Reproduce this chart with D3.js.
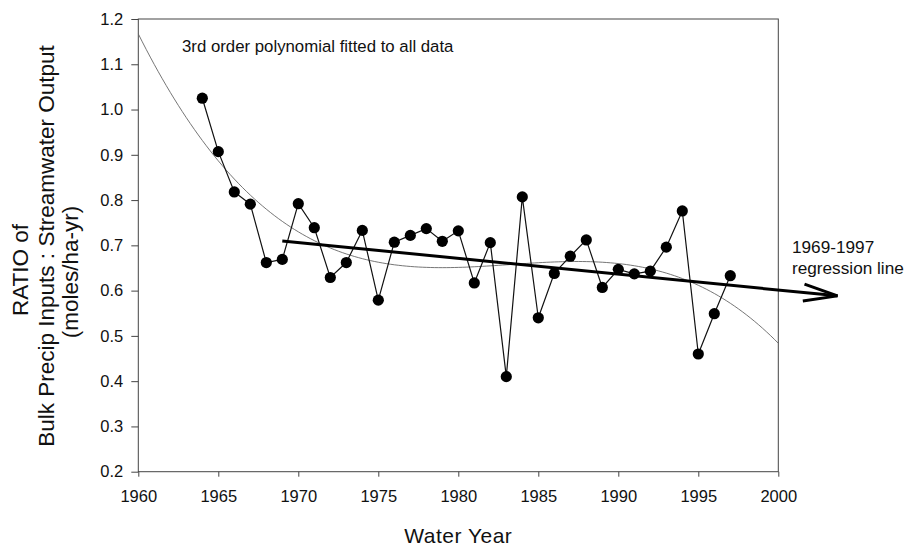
<!DOCTYPE html>
<html>
<head>
<meta charset="utf-8">
<script src="https://cdn.jsdelivr.net/npm/d3@7"></script>
<style>
  body { margin: 0; background: #fff; }
  svg { font-family: "Liberation Sans", Arial, sans-serif; }
  .axis path, .axis line { stroke: #444; }
  .axis text { font-size: 16.5px; fill: #111; }
</style>
</head>
<body>
<div id="chart"></div>
<script>
// water years and ratio values
const years = [1964, 1965, 1966, 1967, 1968, 1969, 1970, 1971, 1972, 1973, 1974,
    1975, 1976, 1977, 1978, 1979, 1980, 1981, 1982, 1983, 1984, 1985, 1986,
    1987, 1988, 1989, 1990, 1991, 1992, 1993, 1994, 1995, 1996, 1997];
const ratios = [1.025, 0.907, 0.818, 0.791, 0.662, 0.669, 0.792, 0.739, 0.629, 0.662, 0.733,
    0.579, 0.707, 0.722, 0.737, 0.709, 0.732, 0.617, 0.706, 0.410, 0.807, 0.540, 0.638,
    0.676, 0.712, 0.607, 0.647, 0.637, 0.643, 0.696, 0.776, 0.460, 0.549, 0.633];
const xTicks = [1960, 1965, 1970, 1975, 1980, 1985, 1990, 1995, 2000];
const yTicks = [0.2, 0.3, 0.4, 0.5, 0.6, 0.7, 0.8, 0.9, 1.0, 1.1, 1.2];
const regStart = 1969, regStop = 1997;
const arrowYear = 2003.7;

const width = 906, height = 546;
const margin = { top: 19, right: 127.7, bottom: 74.3, left: 138.3 };
const innerW = width - margin.left - margin.right;
const innerH = height - margin.top - margin.bottom;

const svg = d3.select('#chart').append('svg')
    .attr('width', width)
    .attr('height', height);

const g = svg.append('g')
    .attr('transform', `translate(${margin.left},${margin.top})`);

const x = d3.scaleLinear().domain([1960, 2000]).range([0, innerW]);
const y = d3.scaleLinear().domain([0.2, 1.2]).range([innerH, 0]);

const points = years.map((yr, i) => ({ year: yr, value: ratios[i] }));

// least squares polynomial of given degree, x centered on 1980
function polyFit(data, degree) {
    const n = degree + 1;
    const A = Array.from({ length: n }, () => new Array(n + 1).fill(0));
    data.forEach(d => {
        const t = d.year - 1980;
        for (let r = 0; r < n; r++) {
            for (let c = 0; c < n; c++) A[r][c] += Math.pow(t, r + c);
            A[r][n] += d.value * Math.pow(t, r);
        }
    });
    for (let i = 0; i < n; i++) {
        let p = i;
        for (let k = i + 1; k < n; k++) if (Math.abs(A[k][i]) > Math.abs(A[p][i])) p = k;
        [A[i], A[p]] = [A[p], A[i]];
        for (let k = 0; k < n; k++) {
            if (k === i) continue;
            const f = A[k][i] / A[i][i];
            for (let c = i; c <= n; c++) A[k][c] -= f * A[i][c];
        }
    }
    const coef = A.map((row, i) => row[n] / row[i]);
    return yr => coef.reduce((s, c, i) => s + c * Math.pow(yr - 1980, i), 0);
}

const cubic = polyFit(points, 3);
const linear = polyFit(points.filter(d => d.year >= regStart && d.year <= regStop), 1);

// frame
g.append('rect')
    .attr('width', innerW)
    .attr('height', innerH)
    .attr('fill', 'none')
    .attr('stroke', '#444')
    .attr('stroke-width', 1);

g.append('g')
    .attr('class', 'axis')
    .attr('transform', `translate(0,${innerH})`)
    .call(d3.axisBottom(x).tickValues(xTicks).tickFormat(d3.format('d')).tickSize(5).tickPadding(14))
    .call(a => a.select('.domain').remove());

g.append('g')
    .attr('class', 'axis')
    .call(d3.axisLeft(y).tickValues(yTicks).tickFormat(d3.format('.1f')).tickSize(7).tickPadding(8))
    .call(a => a.select('.domain').remove());

// fitted cubic
const curveYears = d3.range(1960, 2000.01, 0.25);
g.append('path')
    .datum(curveYears)
    .attr('fill', 'none')
    .attr('stroke', '#666')
    .attr('stroke-width', 0.9)
    .attr('d', d3.line().x(d => x(d)).y(d => y(cubic(d))));

// data series
g.append('path')
    .datum(points)
    .attr('fill', 'none')
    .attr('stroke', '#111')
    .attr('stroke-width', 1.2)
    .attr('d', d3.line().x(d => x(d.year)).y(d => y(d.value)));

g.selectAll('.pt')
    .data(points)
    .enter().append('circle')
    .attr('class', 'pt')
    .attr('cx', d => x(d.year))
    .attr('cy', d => y(d.value))
    .attr('r', 5.6)
    .attr('fill', '#000');

// regression line with open arrow head
const x1 = x(regStart), y1 = y(linear(regStart));
const x2 = x(arrowYear), y2 = y(linear(arrowYear));
g.append('line')
    .attr('x1', x1).attr('y1', y1)
    .attr('x2', x2).attr('y2', y2)
    .attr('stroke', '#000')
    .attr('stroke-width', 3);

const ang = Math.atan2(y2 - y1, x2 - x1);
const headLen = 34, headHalf = 8.5;
const bx = x2 - headLen * Math.cos(ang), by = y2 - headLen * Math.sin(ang);
const px = -Math.sin(ang) * headHalf, py = Math.cos(ang) * headHalf;
g.append('path')
    .attr('d', `M${bx + px},${by + py}L${x2},${y2}L${bx - px},${by - py}`)
    .attr('fill', 'none')
    .attr('stroke', '#000')
    .attr('stroke-width', 3)
    .attr('stroke-linejoin', 'miter');

// annotations
svg.append('text')
    .attr('x', 182)
    .attr('y', 52)
    .style('font-size', '16.8px')
    .attr('fill', '#111')
    .text('3rd order polynomial fitted to all data');

const regLabel = svg.append('text')
    .attr('x', 792)
    .style('font-size', '17.2px')
    .attr('fill', '#111');
regLabel.append('tspan').attr('x', 792).attr('y', 253).text('1969-1997');
regLabel.append('tspan').attr('x', 792).attr('y', 274).text('regression line');

// axis titles
svg.append('text')
    .attr('x', margin.left + innerW / 2)
    .attr('y', 543)
    .attr('text-anchor', 'middle')
    .style('font-size', '21px')
    .style('letter-spacing', '0.5px')
    .attr('fill', '#111')
    .text('Water Year');

const yTitle = [
    { text: 'RATIO of', x: 28, cy: 270 },
    { text: 'Bulk Precip Inputs : Streamwater Output', x: 53.5, cy: 246 },
    { text: '(moles/ha-yr)', x: 78, cy: 272 }
];
yTitle.forEach(t => {
    svg.append('text')
        .attr('transform', `translate(${t.x},${t.cy}) rotate(-90)`)
        .attr('text-anchor', 'middle')
        .style('font-size', '22.5px')
        .attr('fill', '#111')
        .text(t.text);
});
</script>
</body>
</html>
